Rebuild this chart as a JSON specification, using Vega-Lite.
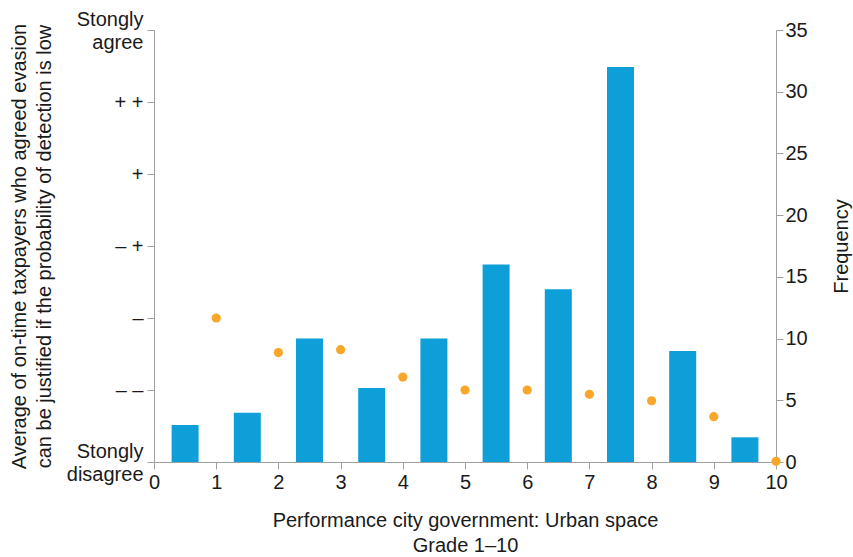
{
  "$schema": "https://vega.github.io/schema/vega-lite/v6.json",
  "width": 622,
  "height": 432,
  "autosize": {"type": "none"},
  "padding": {"left": 154, "top": 30, "right": 77, "bottom": 95},
  "config": {
    "view": {"stroke": null},
    "font": "Liberation Sans",
    "axis": {
      "grid": false,
      "domainColor": "#a0a0a0",
      "tickColor": "#a0a0a0",
      "labelColor": "#1a1a1a",
      "titleColor": "#1a1a1a",
      "labelFontSize": 20,
      "titleFontSize": 20,
      "titleFontWeight": "normal",
      "tickSize": 7,
      "labelFont": "Liberation Sans",
      "titleFont": "Liberation Sans"
    }
  },
  "datasets": {
    "bars": [
      {"x": 0.5, "freq": 3},
      {"x": 1.5, "freq": 4},
      {"x": 2.5, "freq": 10},
      {"x": 3.5, "freq": 6},
      {"x": 4.5, "freq": 10},
      {"x": 5.5, "freq": 16},
      {"x": 6.5, "freq": 14},
      {"x": 7.5, "freq": 32},
      {"x": 8.5, "freq": 9},
      {"x": 9.5, "freq": 2}
    ],
    "points": [
      {"grade": 1, "avg": 2.0},
      {"grade": 2, "avg": 1.52},
      {"grade": 3, "avg": 1.56},
      {"grade": 4, "avg": 1.18},
      {"grade": 5, "avg": 1.0},
      {"grade": 6, "avg": 1.0},
      {"grade": 7, "avg": 0.94},
      {"grade": 8, "avg": 0.85},
      {"grade": 9, "avg": 0.63},
      {"grade": 10, "avg": 0.01}
    ]
  },
  "layer": [
    {
      "data": {"name": "bars"},
      "mark": {"type": "bar", "size": 27, "color": "#0e9fd8"},
      "encoding": {
        "x": {
          "field": "x",
          "type": "quantitative",
          "scale": {"domain": [0, 10], "nice": false, "padding": 0},
          "axis": {
            "values": [0, 1, 2, 3, 4, 5, 6, 7, 8, 9, 10],
            "format": "d",
            "labelFlush": false,
            "title": ["Performance city government: Urban space", "Grade 1–10"],
            "titleLineHeight": 25,
            "titlePadding": 18,
            "labelPadding": 3
          }
        },
        "y": {
          "field": "freq",
          "type": "quantitative",
          "scale": {"domain": [0, 35], "nice": false},
          "axis": {
            "orient": "right",
            "values": [0, 5, 10, 15, 20, 25, 30, 35],
            "title": "Frequency",
            "titleAngle": 270,
            "titlePadding": 44,
            "labelPadding": 2
          }
        }
      }
    },
    {
      "data": {"name": "points"},
      "mark": {"type": "circle", "size": 85, "color": "#f9a72b", "opacity": 1, "clip": false},
      "encoding": {
        "x": {"field": "grade", "type": "quantitative", "scale": {"domain": [0, 10], "nice": false, "padding": 0}},
        "y": {
          "field": "avg",
          "type": "quantitative",
          "scale": {"domain": [0, 6], "nice": false},
          "axis": {
            "orient": "left",
            "values": [0, 1, 2, 3, 4, 5, 6],
            "labelExpr": "datum.value == 0 ? ['Stongly', 'disagree'] : datum.value == 1 ? '– –' : datum.value == 2 ? '–' : datum.value == 3 ? '– +' : datum.value == 4 ? '+' : datum.value == 5 ? '+ +' : ['Stongly', 'agree']",
            "labelLineHeight": 23,
            "labelOffset": {"condition": {"test": "datum.value == 0 || datum.value == 6", "value": -11}, "value": 0},
            "labelPadding": 4,
            "title": ["Average of on-time taxpayers who agreed evasion", "can be justified if the probability of detection is low"],
            "titleLineHeight": 25,
            "titlePadding": 12
          }
        }
      }
    }
  ],
  "resolve": {"scale": {"y": "independent"}}
}
